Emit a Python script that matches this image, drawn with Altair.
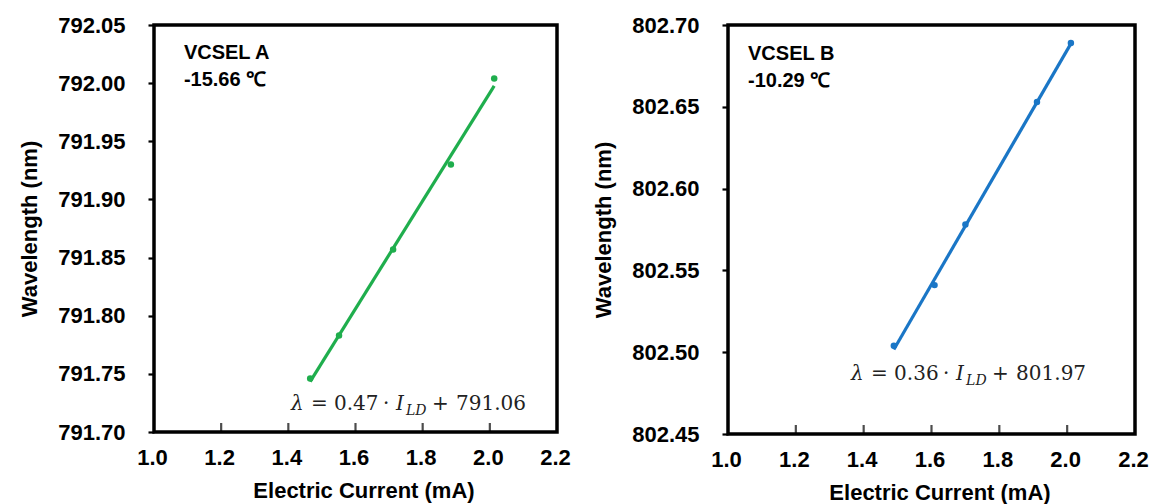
import altair as alt
import pandas as pd

# Measured tuning points for the two lasers
current_a = [1.465, 1.551, 1.712, 1.884, 2.013]
wavelength_a = [791.746, 791.783, 791.857, 791.930, 792.004]
current_b = [1.489, 1.609, 1.700, 1.911, 2.011]
wavelength_b = [802.504, 802.541, 802.578, 802.653, 802.689]

x_ticks = [1.0, 1.2, 1.4, 1.6, 1.8, 2.0, 2.2]
y_ticks_a = [791.70, 791.75, 791.80, 791.85, 791.90, 791.95, 792.00, 792.05]
y_ticks_b = [802.45, 802.50, 802.55, 802.60, 802.65, 802.70]

GREEN = "#1fae4d"
BLUE = "#1a76c6"
SANS = "Liberation Sans"
SERIF = "DejaVu Serif"


def panel(current, wavelength, color, y_domain, y_values, name, temp,
          slope_txt, intercept_txt, eq_x, eq_y, lab_x, lab_y1, lab_y2,
          width, height):
    df = pd.DataFrame({"current": current, "wavelength": wavelength})
    x = alt.X(
        "current:Q",
        scale=alt.Scale(domain=[1.0, 2.2], nice=False, zero=False),
        axis=alt.Axis(values=x_ticks, format=".1f", title="Electric Current (mA)",
                      ticks=False, labelPadding=15, titlePadding=12,
                      labelFlush=False, labelOffset=-2, titleX=width / 2 + 8),
    )
    y = alt.Y(
        "wavelength:Q",
        scale=alt.Scale(domain=y_domain, nice=False, zero=False),
        axis=alt.Axis(values=y_values, format=".2f", title="Wavelength (nm)",
                      tickSize=6, labelPadding=23, titlePadding=16),
    )
    base = alt.Chart(df)
    pts = base.mark_circle(size=42, color=color, opacity=1).encode(x=x, y=y)
    fit = (
        base.transform_regression("current", "wavelength")
        .mark_line(color=color, strokeWidth=3.2)
        .encode(x="current:Q", y="wavelength:Q")
    )

    # inward ticks on the bottom edge
    tick_df = pd.DataFrame({"current": x_ticks[1:-1]})
    inner = alt.Chart(tick_df).mark_tick(
        orient="vertical", size=18, thickness=2.2, color="black", clip=True
    ).encode(x="current:Q", y=alt.datum(y_domain[0]))

    layers = [fit, pts, inner]

    # device name and temperature
    layers.append(
        alt.Chart().mark_text(text=name, font=SANS, fontWeight="bold", fontSize=20,
                              align="left", baseline="middle", color="black")
        .encode(x=alt.datum(lab_x), y=alt.datum(lab_y1))
    )
    layers.append(
        alt.Chart().mark_text(text=temp, font=SANS, fontWeight="bold", fontSize=20,
                              align="left", baseline="middle", color="black")
        .encode(x=alt.datum(lab_x), y=alt.datum(lab_y2))
    )

    # fitted equation, written piece by piece
    pieces = [
        ("λ", 0, "italic", 20, 0),
        ("=", 20, "normal", 20, 0),
        (slope_txt, 43, "normal", 20, 0),
        ("·", 92, "normal", 20, 0),
        ("I", 105, "italic", 20, 0),
        ("LD", 115, "italic", 14, 5),
        ("+", 141, "normal", 20, 0),
        (intercept_txt, 165, "normal", 20, 0),
    ]
    for txt, dx, style, size, dy in pieces:
        layers.append(
            alt.Chart().mark_text(text=txt, font=SERIF, fontStyle=style, fontSize=size,
                                  align="left", baseline="alphabetic", dx=dx, dy=dy,
                                  color="#222222")
            .encode(x=alt.datum(eq_x), y=alt.datum(eq_y))
        )

    return alt.layer(*layers).properties(width=width, height=height)


left = panel(current_a, wavelength_a, GREEN, [791.70, 792.05], y_ticks_a,
             "VCSEL A", "-15.66 ℃", "0.47", "791.06",
             1.408, 791.719, 1.089, 792.026, 792.003, 403, 407)
right = panel(current_b, wavelength_b, BLUE, [802.45, 802.70], y_ticks_b,
              "VCSEL B", "-10.29 ℃", "0.36", "801.97",
              1.363, 802.483, 1.059, 802.682, 802.666, 407, 409)

chart = (
    alt.hconcat(left, right, spacing=17)
    .properties(padding={"left": 16, "top": 12, "right": 0, "bottom": 0},
                background="white")
    .configure_view(stroke="black", strokeWidth=3.5)
    .configure_axis(
        grid=False, domain=False,
        labelFont=SANS, labelFontWeight="bold", labelFontSize=22, labelColor="black",
        titleFont=SANS, titleFontWeight="bold", titleFontSize=22, titleColor="black",
        tickColor="black", tickWidth=2.2,
    )
)

chart.save("out.html", embed_options={"renderer": "svg", "actions": False})
